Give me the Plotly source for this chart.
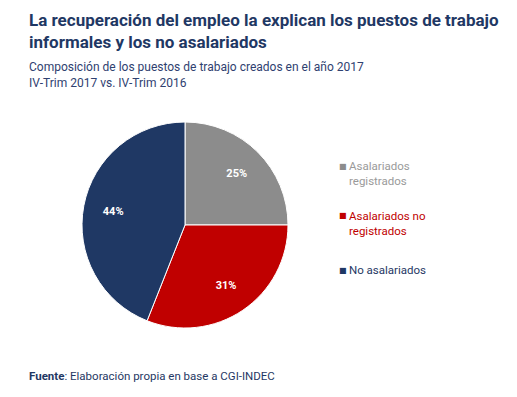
import plotly.graph_objects as go

categories = ["Asalariados registrados", "Asalariados no registrados", "No asalariados"]
legend_labels = ["Asalariados<br>registrados", "Asalariados no<br>registrados", "No asalariados"]
values = [25, 31, 44]
colors = ["#8c8c8c", "#c00000", "#1f3864"]
legend_text_colors = ["#9a9a9a", "#c00000", "#1f3864"]

# page body has an 8px margin; the figure is offset by it
OFF = 8
W, H = 517 - OFF, 397 - OFF


def px(x):
    return (x - OFF) / W


def py(y):
    return 1 - (y - OFF) / H


pie_domain = dict(x=[px(82), px(288)], y=[py(328), py(122)])

fig = go.Figure()
fig.add_trace(go.Pie(
    labels=categories,
    values=values,
    sort=False,
    direction="clockwise",
    rotation=0,
    marker=dict(colors=colors, line=dict(color="white", width=1)),
    textinfo="none",
    domain=pie_domain,
    showlegend=False,
    hoverinfo="label+percent",
))
# transparent ring used only to place the percentage labels further out
fig.add_trace(go.Pie(
    labels=categories,
    values=values,
    sort=False,
    direction="clockwise",
    rotation=0,
    hole=0.42,
    marker=dict(colors=["rgba(0,0,0,0)"] * 3, line=dict(width=0)),
    texttemplate="%{value}%",
    textposition="inside",
    insidetextorientation="horizontal",
    textfont=dict(family="Roboto", size=11, color="white", weight="bold"),
    domain=pie_domain,
    showlegend=False,
    hoverinfo="skip",
))

annotations = [
    dict(text="<b>La recuperación del empleo la explican los puestos de trabajo<br>informales y los no asalariados</b>",
         x=px(27), y=py(8), xanchor="left", yanchor="top", align="left",
         font=dict(family="Roboto", size=17, color="#1f3864")),
    dict(text="Composición de los puestos de trabajo creados en el año 2017<br>IV-Trim 2017 vs. IV-Trim 2016",
         x=px(27), y=py(58), xanchor="left", yanchor="top", align="left",
         font=dict(family="Roboto", size=12, color="#2f4170")),
    dict(text="<b>Fuente</b>: Elaboración propia en base a CGI-INDEC",
         x=px(27), y=py(376), xanchor="left", yanchor="middle", align="left",
         font=dict(family="Roboto", size=11.5, color="#1f3864")),
]

legend_y = [173, 223, 270]
for lab, col, tcol, yy in zip(legend_labels, colors, legend_text_colors, legend_y):
    annotations.append(dict(text="■", x=px(337), y=py(yy - 7 if "<br>" in lab else yy),
                            xanchor="left", yanchor="middle",
                            font=dict(family="DejaVu Sans", size=8, color=col)))
    annotations.append(dict(text=lab, x=px(347), y=py(yy), xanchor="left", yanchor="middle",
                            align="left",
                            font=dict(family="Roboto", size=11.5, color=tcol)))

for a in annotations:
    a["showarrow"] = False
    a["xref"] = "paper"
    a["yref"] = "paper"

fig.update_layout(
    width=W, height=H,
    margin=dict(l=0, r=0, t=0, b=0),
    paper_bgcolor="white",
    plot_bgcolor="white",
    annotations=annotations,
)

fig.write_html("out.html")
